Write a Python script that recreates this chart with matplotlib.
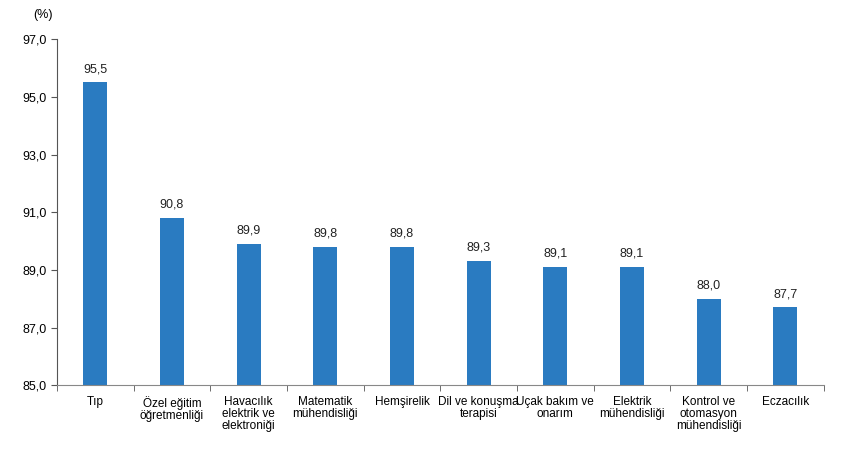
import matplotlib
matplotlib.use("Agg")
import matplotlib.pyplot as plt
from matplotlib.ticker import FixedLocator, MultipleLocator

plt.rcParams['font.family'] = ['Liberation Sans', 'DejaVu Sans']

categories = [
    "Tıp",
    "Özel eğitim\nöğretmenliği",
    "Havacılık\nelektrik ve\nelektroniği",
    "Matematik\nmühendisliği",
    "Hemşirelik",
    "Dil ve konuşma\nterapisi",
    "Uçak bakım ve\nonarım",
    "Elektrik\nmühendisliği",
    "Kontrol ve\notomasyon\nmühendisliği",
    "Eczacılık",
]
values = [95.5, 90.8, 89.9, 89.8, 89.8, 89.3, 89.1, 89.1, 88.0, 87.7]
y_ticks = [85.0, 87.0, 89.0, 91.0, 93.0, 95.0, 97.0]

fig = plt.figure(figsize=(8.5, 4.51), dpi=100)
ax = fig.add_axes([0.067, 0.146, 0.902, 0.767])

x = list(range(len(categories)))
ax.bar(x, values, width=0.31, bottom=0, color="#2A7BC1")
for xi, v in zip(x, values):
    ax.text(xi, v + 0.25, f"{v:.1f}".replace(".", ","), ha="center", va="bottom",
            fontsize=9, color="#222222")

ax.set_ylim(85, 97)
ax.set_xlim(-0.5, len(categories) - 0.5)
ax.set_yticks(y_ticks)
ax.set_yticklabels([f"{t:.1f}".replace(".", ",") for t in y_ticks], fontsize=9)
ax.set_xticks(x)
ax.set_xticklabels(categories, fontsize=8.5, linespacing=1.0)
ax.tick_params(axis="x", length=0, pad=8)
ax.xaxis.set_minor_locator(FixedLocator([i - 0.5 for i in range(len(categories) + 1)]))
ax.tick_params(axis="x", which="minor", length=4, color="#555555")
ax.tick_params(axis="y", length=4, color="#555555")

for s in ["top", "right"]:
    ax.spines[s].set_visible(False)
ax.spines["left"].set_color("#555555")
ax.spines["bottom"].set_color("#888888")

fig.text(43 / 850, 1 - 15 / 451, "(%)", ha="center", va="center", fontsize=9)

fig.savefig("out.png", dpi=100)
